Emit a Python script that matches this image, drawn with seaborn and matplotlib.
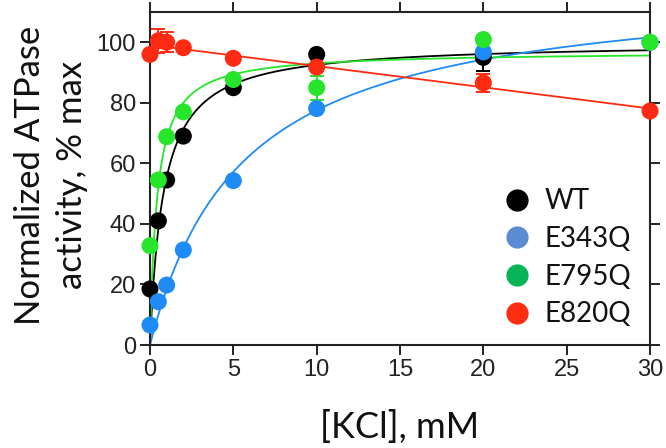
import numpy as np
import pandas as pd
import matplotlib
matplotlib.use("Agg")
import matplotlib.pyplot as plt
from matplotlib.lines import Line2D
import seaborn as sns

# KCl concentrations (mM) and normalized activity (% max)
wt_x = [0, 0.5, 1, 2, 5, 10, 20]
wt_y = [18.5, 41, 54.5, 69, 85, 96, 95]
wt_err = [0, 0, 0, 0, 0, 0, 4.6]

e343q_x = [0, 0.5, 1, 2, 5, 10, 20, 30]
e343q_y = [6.6, 14.3, 19.8, 31.4, 54.3, 78.1, 96.8, 100]
e343q_err = [0, 0, 0, 0, 0, 0, 0, 0]

e795q_x = [0, 0.5, 1, 2, 5, 10, 20, 30]
e795q_y = [32.8, 54.5, 68.8, 77, 87.7, 85, 100.9, 100]
e795q_err = [0, 0, 0, 0, 0, 4, 0, 0]

e820q_x = [0, 0.5, 1, 2, 5, 10, 20, 30]
e820q_y = [96, 100.5, 100, 98.2, 94.7, 91.8, 86.6, 77.3]
e820q_err = [0, 4, 3.3, 0, 0, 0, 3, 0]

labels = ["WT", "E343Q", "E795Q", "E820Q"]
dot_colors = ["#000000", "#1f8bf5", "#27e52a", "#ff2a12"]
legend_colors = ["#000000", "#5b8bd3", "#08b457", "#ff2d0f"]
fit_kind = ["mm", "mm", "mm", "linear"]

series = [
    (wt_x, wt_y, wt_err),
    (e343q_x, e343q_y, e343q_err),
    (e795q_x, e795q_y, e795q_err),
    (e820q_x, e820q_y, e820q_err),
]


def fit_curve(x, y, kind, xs):
    x = np.asarray(x, float)
    y = np.asarray(y, float)
    if kind == "linear":
        p = np.polyfit(x, y, 1)
        return np.polyval(p, xs)
    # hyperbolic Vmax*x/(K+x), least squares over a K grid
    best = None
    for k in np.linspace(0.05, 20, 4000):
        f = x / (k + x)
        vmax = (f * y).sum() / (f * f).sum()
        sse = ((y - vmax * f) ** 2).sum()
        if best is None or sse < best[0]:
            best = (sse, k, vmax)
    _, k, vmax = best
    return vmax * xs / (k + xs)


sns.set_theme(style="ticks")
plt.rcParams["font.family"] = ["Liberation Sans", "DejaVu Sans"]

fig = plt.figure(figsize=(6.66, 4.48), dpi=100)
ax = fig.add_axes([150 / 666, 1 - 345 / 448, 500 / 666, 333 / 448])

xs = np.linspace(0, 30, 400)
for i, (x, y, err) in enumerate(series):
    curve = pd.DataFrame({"x": xs, "y": fit_curve(x, y, fit_kind[i], xs)})
    sns.lineplot(data=curve, x="x", y="y", ax=ax, color=dot_colors[i],
                 linewidth=1.3, zorder=2 + i * 0.1)

for i, (x, y, err) in enumerate(series):
    err = np.asarray(err, float)
    m = err > 0
    if m.any():
        ax.errorbar(np.asarray(x)[m], np.asarray(y)[m], yerr=err[m], fmt="none",
                    ecolor=dot_colors[i], elinewidth=1.4, capsize=5,
                    capthick=1.4, zorder=3 + i * 0.1)
    pts = pd.DataFrame({"x": x, "y": y})
    sns.scatterplot(data=pts, x="x", y="y", ax=ax, color=dot_colors[i], s=150,
                    edgecolor="none", linewidth=0, zorder=4 + i * 0.1, clip_on=False)

ax.set_xlim(0, 30)
ax.set_ylim(0, 110)
ax.set_xticks([0, 5, 10, 15, 20, 25, 30])
ax.set_yticks([0, 20, 40, 60, 80, 100])
ax.tick_params(axis="both", which="both", direction="out", length=7, width=1.4,
               labelsize=17, color="#222222", labelcolor="#222222", pad=3)
ax.tick_params(top=True, right=True, labeltop=False, labelright=False)
for s in ax.spines.values():
    s.set_visible(True)
    s.set_linewidth(1.5)
    s.set_color("#222222")

ax.set_xlabel("[KCl], mM", fontsize=26, family=["Lato", "DejaVu Sans"], color="#111111")
ax.set_ylabel("Normalized ATPase\nactivity, % max", fontsize=25,
              family=["Lato", "DejaVu Sans"], color="#111111", linespacing=1.4)
ax.xaxis.set_label_coords(0.5, -0.195)
ax.yaxis.set_label_coords(-0.124, 0.51)

handles = [Line2D([], [], linestyle="none", marker="o", markersize=16,
                  markerfacecolor=c, markeredgecolor="none") for c in legend_colors]
leg = ax.legend(handles, labels, loc="lower right", bbox_to_anchor=(0.985, 0.02),
                frameon=False, prop={"family": ["Lato", "DejaVu Sans"], "size": 20},
                handletextpad=0.0, labelspacing=0.42, borderaxespad=0.0)
for t in leg.get_texts():
    t.set_color("#111111")

fig.savefig("out.png", dpi=100)
